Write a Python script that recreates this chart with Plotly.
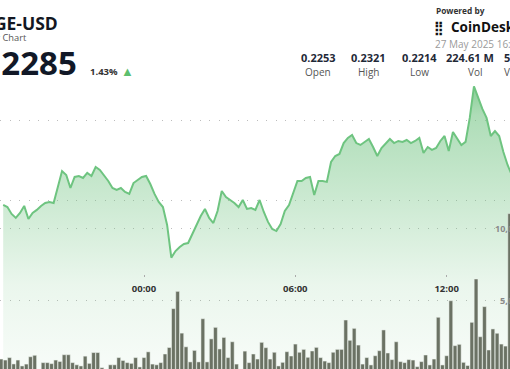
import pandas as pd
import plotly.graph_objects as go

# ---------------- data ----------------
prices = [0.22469, 0.22456, 0.22413, 0.22388, 0.22419, 0.22463, 0.22381, 0.22419, 0.22438, 0.22463,
          0.22481, 0.22488, 0.22481, 0.22588, 0.22681, 0.22656, 0.22575, 0.22644, 0.22650, 0.22638,
          0.22669, 0.22650, 0.22706, 0.22688, 0.22656, 0.22619, 0.22575, 0.22563, 0.22575, 0.22550,
          0.22538, 0.22606, 0.22625, 0.22644, 0.22650, 0.22600, 0.22538, 0.22488, 0.22456, 0.22344,
          0.22140, 0.22181, 0.22206, 0.22225, 0.22231, 0.22288, 0.22338, 0.22400, 0.22444, 0.22388,
          0.22356, 0.22431, 0.22556, 0.22519, 0.22500, 0.22481, 0.22456, 0.22500, 0.22444, 0.22450,
          0.22438, 0.22500, 0.22425, 0.22363, 0.22319, 0.22306, 0.22350, 0.22431, 0.22469, 0.22544,
          0.22619, 0.22619, 0.22638, 0.22644, 0.22531, 0.22619, 0.22619, 0.22613, 0.22738, 0.22775,
          0.22788, 0.22856, 0.22888, 0.22906, 0.22856, 0.22844, 0.22863, 0.22881, 0.22831, 0.22775,
          0.22825, 0.22856, 0.22881, 0.22856, 0.22869, 0.22863, 0.22875, 0.22856, 0.22869, 0.22888,
          0.22794, 0.22831, 0.22813, 0.22825, 0.22869, 0.22900, 0.22806, 0.22925, 0.22888, 0.22844,
          0.22863, 0.23013, 0.23210, 0.23138, 0.23069, 0.23013, 0.22900, 0.22931, 0.22900, 0.22800,
          0.22719, 0.22656]

volumes_m = [0.9, 0.83, 1.0, 0.56, 0.83, 0.42, 0.55, 1.06, 1.16, 0.1,
             0.65, 0.65, 0.58, 0.83, 0.73, 1.2, 1.2, 0.65, 0.5, 0.42,
             1.1, 0.6, 1.35, 1.35, 0.3, 0.15, 0.5, 0.5, 1.0, 0.8,
             0.65, 0.6, 1.0, 0.35, 1.0, 1.4, 0.55, 0.5, 0.65, 1.25,
             1.7, 4.4, 5.6, 2.7, 1.75, 0.7, 1.5, 0.7, 3.7, 0.7,
             2.3, 3.1, 1.6, 2.4, 1.0, 2.1, 0.55, 0.2, 1.45, 0.65,
             1.25,
             0.9, 2.06, 1.69, 0.9, 1.37, 0.42, 0.67, 1.41, 1.11, 1.94,
             1.37, 1.57, 1.02, 1.46, 1.71, 1.0, 0.76, 0.65, 1.37, 1.57,
             1.57, 3.61, 2.2, 3.03, 1.87, 0.55, 1.0, 0.49, 1.13, 1.48,
             2.92, 1.32, 0.86, 2.1, 0.72, 0.65, 0.86, 0.83, 0.37, 0.72,
             1.18, 0.49, 0.9, 3.8, 0.49, 1.13, 4.95, 1.83, 1.92, 0.67,
             0.45, 3.45, 6.46, 2.45, 4.54, 1.53, 2.99, 2.69, 1.94, 1.8,
             11.0]

price_times = pd.date_range("2025-05-26 18:25", periods=len(prices), freq="10min")
vol_times = pd.date_range("2025-05-26 18:20", periods=len(volumes_m), freq="10min")
volumes = [v * 1e6 for v in volumes_m]

symbol = "DOGE-USD"
subtitle = "24 Hour Chart"
last_price = "0.2285"
change_pct = "1.43%"
stamp = "27 May 2025 16:29"
stat_values = ["0.2253", "0.2321", "0.2214", "224.61 M", "50.87 M"]
stat_labels = ["Open", "High", "Low", "Vol", "Vol (USD)"]
price_grid = [0.225, 0.230]
vol_grid = [5e6, 1e7]
vol_grid_text = ["5,000,000", "10,000,000"]

W, H = 510, 369
FONT = "Open Sans"


def px(x):
    return x / W


def py(y):
    return 1 - y / H


fig = go.Figure()
fig.add_trace(go.Scatter(
    x=price_times, y=prices, mode="lines",
    line=dict(color="#6ec480", width=2),
    fill="tozeroy",
    fillgradient=dict(
        type="vertical",
        colorscale=[[0, "rgba(108,193,125,0.05)"], [0.3, "rgba(108,193,125,0.14)"],
                    [0.56, "rgba(108,193,125,0.32)"], [0.9, "rgba(108,193,125,0.55)"],
                    [1, "rgba(108,193,125,0.8)"]],
        start=0.2144, stop=0.2321),
    hoverinfo="skip", yaxis="y"))

fig.add_trace(go.Bar(
    x=vol_times, y=volumes, yaxis="y2",
    marker=dict(color="#6b7264", line=dict(color="rgba(240,245,240,0.85)", width=0.6)),
    hoverinfo="skip"))

grid_style = dict(showgrid=True, gridcolor="#bdbdbd", gridwidth=1.3, griddash="1.3px,8.2px",
                  showticklabels=False, zeroline=False, showline=False, ticks="",
                  automargin=False)

fig.update_layout(
    width=W, height=H, margin=dict(l=0, r=0, t=0, b=0, pad=0, autoexpand=False),
    paper_bgcolor="white", plot_bgcolor="white",
    showlegend=False, bargap=0.1,
    xaxis=dict(range=["2025-05-26 18:17:25", "2025-05-27 14:30:44"],
               showgrid=False, zeroline=False, showline=False, automargin=False,
               anchor="free", position=py(274),
               ticks="outside", ticklen=2, tickwidth=1.2, tickcolor="#aaaaaa",
               tickformat="%H:%M", dtick=6 * 3600 * 1000, tick0="2025-05-26 18:00",
               ticklabelstandoff=4,
               tickfont=dict(family=FONT, size=9.5, color="#333333", weight="bold")),
    yaxis=dict(range=[0.2144375, 0.2375], tickvals=price_grid, **grid_style),
    yaxis2=dict(range=[208333, 25833333], overlaying="y", tickvals=vol_grid, **grid_style),
)

ann = []


def add(text, x, y, size, color, xanchor="left", weight="normal"):
    ann.append(dict(text=text, x=px(x), y=py(y), xref="paper", yref="paper",
                    xanchor=xanchor, yanchor="middle", showarrow=False,
                    font=dict(family=FONT, size=size, color=color, weight=weight)))


add(symbol, 60, 23, 17.5, "#131722", "right", "bold")
add(subtitle, 29, 37, 9.3, "#555555", "right")
add(last_price, 79, 62, 33, "#111827", "right", "bold")
add(change_pct, 88, 72, 9.5, "#333333", "left", "bold")
add("▲", 119, 71, 13, "#5dbf6e", "left")
add("Powered by", 434, 10, 8.3, "#333333", "left", "bold")
add("⣿", 432, 27, 13, "#111111", "left", "bold")
add("CoinDesk", 449, 27, 13.5, "#111111", "left", "bold")
add(stamp, 433, 44, 10, "#9a9a9a", "left")

centers = [318, 368, 419, 470]
for c, v, l in zip(centers, stat_values[:4], stat_labels[:4]):
    add(v, c, 58, 11, "#1f2937", "center", "bold")
    add(l, c + (5 if l == "Vol" else 0), 72, 10, "#555555", "center")
add(stat_values[4], 502, 58, 11, "#1f2937", "left", "bold")
add(stat_labels[4], 502, 72, 10, "#555555", "left")

add(vol_grid_text[1], 493, 228, 9, "#8a8a8a", "left", "bold")
add(vol_grid_text[0], 498, 300, 9, "#8a8a8a", "left", "bold")

fig.update_layout(annotations=ann)
fig.write_html("out.html", config=dict(displayModeBar=False),
               post_script="document.body.style.margin='0';document.body.style.overflow='hidden';")
